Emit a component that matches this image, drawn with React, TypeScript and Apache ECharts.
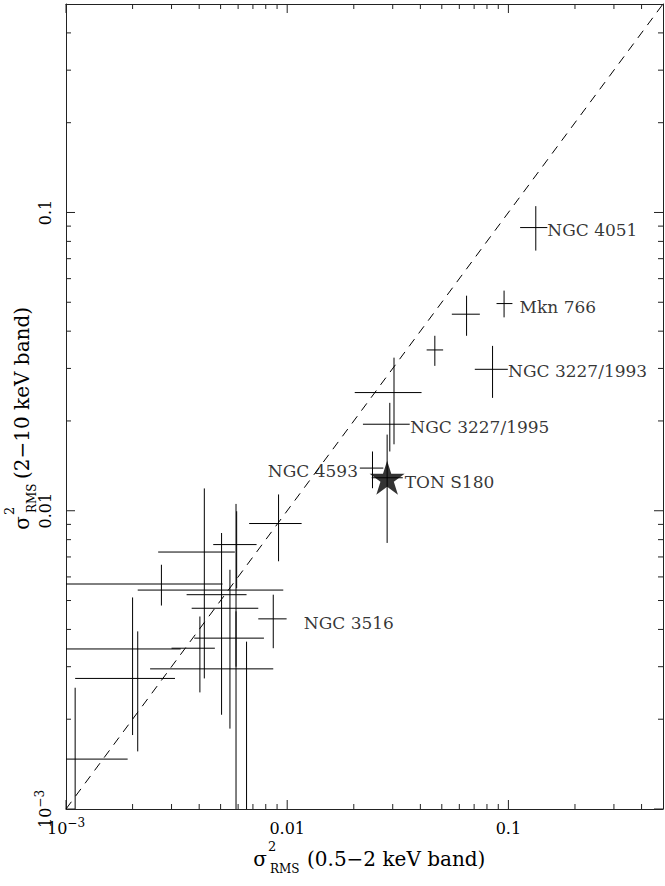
import React, { useEffect, useRef } from 'react';
import * as echarts from 'echarts';

// Axis extents (both log scale)
const X_MIN = 0.001;
const X_MAX = 0.5;
const Y_MIN = 0.001;
const Y_MAX = 0.5;

// Sources: σ²_RMS in the soft (0.5–2 keV) and hard (2–10 keV) bands with error ranges
const sourceNames = [
  'NGC 4051', 'Mkn 766', '', 'NGC 3227/1993', '', '', 'NGC 3227/1995', 'NGC 4593', 'TON S180',
  '', '', '', '', '', '', '', 'NGC 3516', '', '', '', '', '', '',
];
const softVar = [
  0.133, 0.0956, 0.0647, 0.0848, 0.0465, 0.0304, 0.0291, 0.0243, 0.0283,
  0.00914, 0.00591, 0.00422, 0.0027, 0.00587, 0.00505, 0.00551, 0.00865, 0.00587, 0.002, 0.00211, 0.0011, 0.00403, 0.00655,
];
const softLow = [
  0.113, 0.0884, 0.0555, 0.0705, 0.0427, 0.0202, 0.022, 0.0213, 0.0241,
  0.00673, 0.00463, 0.00261, 0.0003, 0.00211, 0.00351, 0.0037, 0.0074, 0.0038, 0.0007, 0.0011, 0.0003, 0.003, 0.0024,
];
const softHigh = [
  0.15, 0.1043, 0.0743, 0.0994, 0.0507, 0.0405, 0.0358, 0.0272, 0.0333,
  0.01162, 0.00727, 0.0058, 0.0051, 0.0096, 0.00655, 0.0074, 0.00994, 0.00785, 0.0033, 0.00311, 0.0019, 0.00471, 0.00865,
];
const hardVar = [
  0.089, 0.0495, 0.0456, 0.0298, 0.0346, 0.0249, 0.0195, 0.0139, 0.0129,
  0.00906, 0.0077, 0.00727, 0.00568, 0.00542, 0.00523, 0.00471, 0.00434, 0.00374, 0.00344, 0.00274, 0.00147, 0.00346, 0.00295,
];
const hardLow = [
  0.0745, 0.0445, 0.0386, 0.0239, 0.0306, 0.0167, 0.0158, 0.0119, 0.0078,
  0.00677, 0.0055, 0.00274, 0.00481, 0.0003, 0.00207, 0.00186, 0.00346, 0.003, 0.00177, 0.00156, 0.0004, 0.00246, 0.0003,
];
const hardHigh = [
  0.105, 0.0547, 0.0526, 0.0357, 0.0386, 0.0326, 0.023, 0.0158, 0.018,
  0.01134, 0.00996, 0.01188, 0.00659, 0.01054, 0.00842, 0.00634, 0.00523, 0.0046, 0.00512, 0.00394, 0.00255, 0.00442, 0.00364,
];

const highlighted = 'TON S180';

// Decade tick labels
const decadeTicks = [0.001, 0.01, 0.1];
const decadeTickLabels = ['{b|10}{sup|−3}', '{b|0.01}', '{b|0.1}'];

// Axis titles: symbol, superscript, subscript, band description
const xTitleParts = ['σ', '2', 'RMS', '(0.5−2 keV band)'];
const yTitleParts = ['σ', '2', 'RMS', '(2−10 keV band)'];

// Label placement beside each named source
const labelPlacement: Record<string, { side: 'left' | 'right'; gap: number; dy: number }> = {
  'NGC 4051': { side: 'right', gap: 11, dy: 2 },
  'Mkn 766': { side: 'right', gap: 15, dy: 3 },
  'NGC 3227/1993': { side: 'right', gap: 15, dy: 2 },
  'NGC 3227/1995': { side: 'right', gap: 20, dy: 3 },
  'NGC 4593': { side: 'left', gap: 14, dy: 3 },
  'TON S180': { side: 'right', gap: 17, dy: 4 },
  'NGC 3516': { side: 'right', gap: 30, dy: 4 },
};

const FONT = '"DejaVu Serif", "Liberation Serif", serif';
const STAR = 'path://M100 0 L122.45 69.1 L195.1 69.1 L136.33 111.8 L158.78 180.9 L100 138.2 L41.22 180.9 L63.67 111.8 L4.9 69.1 L77.55 69.1 Z';

const tickRich = {
  b: { fontSize: 16, lineHeight: 18, fontFamily: FONT, color: '#000' },
  sup: { fontSize: 12, lineHeight: 18, fontFamily: FONT, color: '#000', padding: [0, 0, 10, 0] },
};

function decadeLabel(v: number): string {
  const e = Math.log10(v);
  for (let i = 0; i < decadeTicks.length; i++) {
    if (Math.abs(Math.log10(decadeTicks[i]) - e) < 1e-6) return decadeTickLabels[i];
  }
  return '';
}

// Tick marks drawn inward on all four sides: [value, value, axis (0 = x, 1 = y), major]
function buildTicks(): number[][] {
  const out: number[][] = [];
  for (const axis of [0, 1]) {
    const max = axis === 0 ? X_MAX : Y_MAX;
    for (const d of decadeTicks) {
      out.push([d, d, axis, 1]);
      for (let m = 2; m <= 9; m++) {
        const v = d * m;
        if (v < max * 0.999) out.push([v, v, axis, 0]);
      }
    }
  }
  return out;
}

function txt(text: string, x: number, y: number, size: number, align: string, rotation = 0) {
  return {
    type: 'text',
    x,
    y,
    rotation,
    silent: true,
    style: { text, fontFamily: FONT, fontSize: size, fill: '#000', align, verticalAlign: 'middle' },
  };
}

export default function App() {
  const ref = useRef<HTMLDivElement>(null);

  useEffect(() => {
    const chart = echarts.init(ref.current!, null, { renderer: 'svg' });

    const errorData = softVar.map((x, i) => [x, hardVar[i], softLow[i], softHigh[i], hardLow[i], hardHigh[i]]);
    const starIndex = sourceNames.indexOf(highlighted);

    const labelData = sourceNames
      .map((n, i) => ({ n, i }))
      .filter(({ n }) => n !== '')
      .map(({ n, i }) => {
        const p = labelPlacement[n];
        return {
          value: [softVar[i], hardVar[i]],
          label: {
            show: true,
            formatter: n,
            position: p.side,
            distance: p.gap,
            offset: [0, p.dy],
          },
        };
      });

    const stroke = { stroke: '#000', lineWidth: 1 };
    const axisLine = { show: true, onZero: false, lineStyle: { color: '#222', width: 1 } };
    const R = Math.PI / 2;

    chart.setOption({
      animation: false,
      backgroundColor: '#fff',
      grid: { left: 66, top: 4, width: 597, height: 805, containLabel: false, outerBoundsMode: 'none' },
      graphic: [
        // bottom axis title
        txt(xTitleParts[0], 260, 859, 20, 'center'),
        txt(xTitleParts[1], 268, 846, 13, 'left'),
        txt(xTitleParts[2], 270, 869, 12, 'left'),
        txt(xTitleParts[3], 307, 859, 20, 'left'),
        // left axis title (reads upward)
        txt(yTitleParts[0], 22, 523, 20, 'center', R),
        txt(yTitleParts[1], 9, 515, 13, 'left', R),
        txt(yTitleParts[2], 32, 513, 12, 'left', R),
        txt(yTitleParts[3], 22, 479, 20, 'left', R),
      ],
      xAxis: [
        {
          type: 'log', logBase: 10, min: X_MIN, max: X_MAX, position: 'bottom',
          axisLine, axisTick: { show: false }, splitLine: { show: false }, minorTick: { show: false },
          axisLabel: { interval: 0, margin: 10, formatter: decadeLabel, rich: tickRich, showMaxLabel: true, showMinLabel: true },
        },
        {
          type: 'log', logBase: 10, min: X_MIN, max: X_MAX, position: 'top',
          axisLine, axisTick: { show: false }, splitLine: { show: false }, axisLabel: { show: false },
        },
      ],
      yAxis: [
        {
          type: 'log', logBase: 10, min: Y_MIN, max: Y_MAX, position: 'left',
          axisLine, axisTick: { show: false }, splitLine: { show: false }, minorTick: { show: false },
          axisLabel: { interval: 0, margin: 12, rotate: 90, formatter: decadeLabel, rich: tickRich, showMaxLabel: true, showMinLabel: true },
        },
        {
          type: 'log', logBase: 10, min: Y_MIN, max: Y_MAX, position: 'right',
          axisLine, axisTick: { show: false }, splitLine: { show: false }, axisLabel: { show: false },
        },
      ],
      series: [
        {
          type: 'custom',
          name: 'ticks',
          silent: true,
          clip: false,
          data: buildTicks(),
          encode: { x: 0, y: 1 },
          renderItem: (_params: any, api: any) => {
            const v = api.value(0);
            const axis = api.value(2);
            const len = api.value(3) ? 9 : 5;
            const st = { stroke: '#222', lineWidth: 1 };
            if (axis === 0) {
              const b = api.coord([v, Y_MIN]);
              const t = api.coord([v, Y_MAX]);
              return {
                type: 'group',
                children: [
                  { type: 'line', shape: { x1: b[0], y1: b[1], x2: b[0], y2: b[1] - len }, style: st },
                  { type: 'line', shape: { x1: t[0], y1: t[1], x2: t[0], y2: t[1] + len }, style: st },
                ],
              };
            }
            const l = api.coord([X_MIN, v]);
            const r = api.coord([X_MAX, v]);
            return {
              type: 'group',
              children: [
                { type: 'line', shape: { x1: l[0], y1: l[1], x2: l[0] + len, y2: l[1] }, style: st },
                { type: 'line', shape: { x1: r[0], y1: r[1], x2: r[0] - len, y2: r[1] }, style: st },
              ],
            };
          },
        },
        {
          type: 'line',
          name: 'equal variance',
          silent: true,
          symbol: 'none',
          data: [[X_MIN, Y_MIN], [X_MAX, Y_MAX]],
          lineStyle: { color: '#000', width: 1, type: [9, 7] },
          z: 2,
        },
        {
          type: 'custom',
          name: 'sources',
          silent: true,
          clip: true,
          data: errorData,
          encode: { x: 0, y: 1 },
          renderItem: (_params: any, api: any) => {
            const c = api.coord([api.value(0), api.value(1)]);
            const l = api.coord([api.value(2), api.value(1)]);
            const r = api.coord([api.value(3), api.value(1)]);
            const b = api.coord([api.value(0), api.value(4)]);
            const t = api.coord([api.value(0), api.value(5)]);
            return {
              type: 'group',
              children: [
                { type: 'line', shape: { x1: l[0], y1: c[1], x2: r[0], y2: c[1] }, style: stroke },
                { type: 'line', shape: { x1: c[0], y1: b[1], x2: c[0], y2: t[1] }, style: stroke },
              ],
            };
          },
          z: 3,
        },
        {
          type: 'scatter',
          name: highlighted,
          silent: true,
          symbol: STAR,
          symbolSize: [35, 34],
          itemStyle: { color: '#000' },
          data: [[softVar[starIndex], hardVar[starIndex]]],
          z: 4,
        },
        {
          type: 'scatter',
          name: 'labels',
          silent: true,
          symbolSize: 1,
          itemStyle: { color: 'transparent' },
          label: { fontFamily: FONT, fontSize: 17, color: '#000' },
          data: labelData,
          z: 5,
        },
      ],
    });

    return () => chart.dispose();
  }, []);

  return (
    <div
      ref={ref}
      style={{ position: 'absolute', left: 0, top: 0, width: 665, height: 886, background: '#fff' }}
    />
  );
}
